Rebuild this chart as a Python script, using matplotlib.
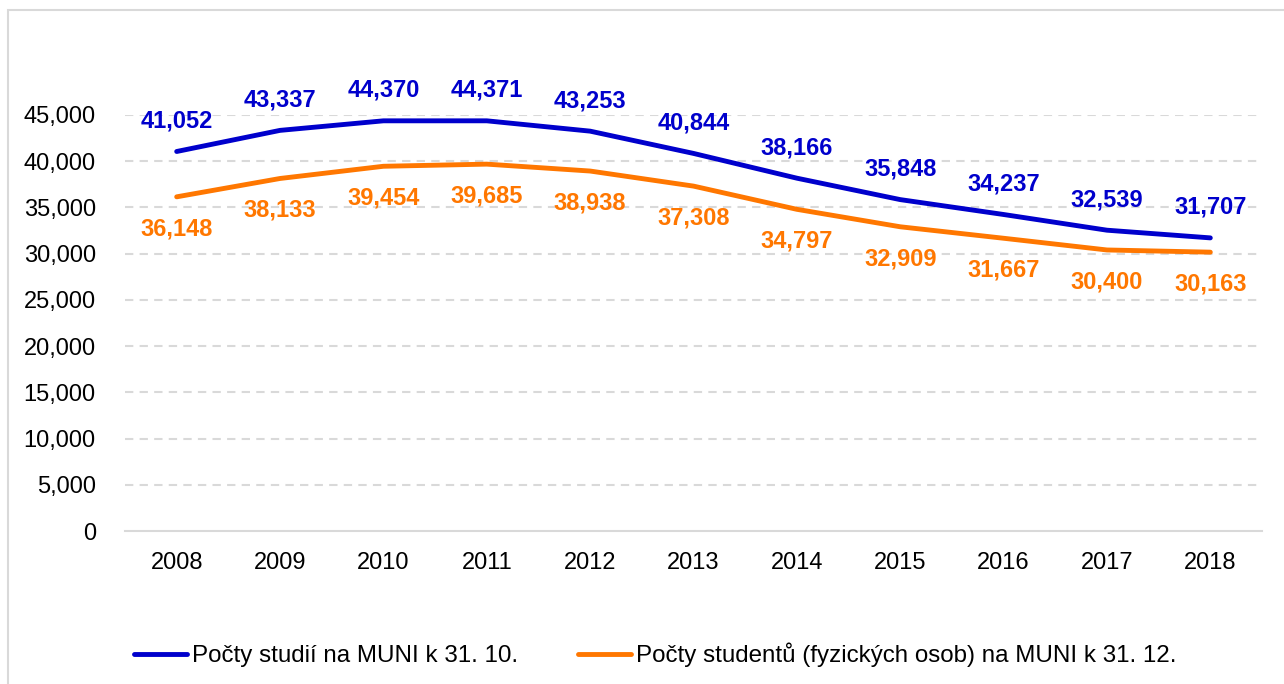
import matplotlib.pyplot as plt
from matplotlib.patches import Rectangle
from matplotlib.ticker import FuncFormatter

plt.rcParams['font.family'] = ['Liberation Sans', 'DejaVu Sans']

years = ['2008', '2009', '2010', '2011', '2012', '2013', '2014', '2015', '2016', '2017', '2018']
studies = [41052, 43337, 44370, 44371, 43253, 40844, 38166, 35848, 34237, 32539, 31707]
students = [36148, 38133, 39454, 39685, 38938, 37308, 34797, 32909, 31667, 30400, 30163]
yticks = list(range(0, 45001, 5000))

blue = '#0000CC'
orange = '#FF7700'
grid_c = '#D9D9D9'
fs = 17

fig = plt.figure(figsize=(12.84, 6.84), dpi=100)
ax = fig.add_axes([125 / 1284, 1 - 531 / 684, (1262 - 125) / 1284, (531 - 115) / 684])

x = list(range(len(years)))
l1, = ax.plot(x, studies, color=blue, lw=3.5, solid_joinstyle='round',
              solid_capstyle='round', label='Počty studií na MUNI k 31. 10.', zorder=3)
l2, = ax.plot(x, students, color=orange, lw=3.5, solid_joinstyle='round',
              solid_capstyle='round', label='Počty studentů (fyzických osob) na MUNI k 31. 12.', zorder=3)

for i in x:
    ax.annotate(f'{studies[i]:,}', (i, studies[i]), xytext=(0, 22), textcoords='offset points',
                ha='center', va='center', fontsize=fs, fontweight='bold', color=blue,
                annotation_clip=False)
    ax.annotate(f'{students[i]:,}', (i, students[i]), xytext=(0, -23), textcoords='offset points',
                ha='center', va='center', fontsize=fs, fontweight='bold', color=orange,
                annotation_clip=False)

ax.set_xlim(-0.5, len(years) - 0.5)
ax.set_ylim(0, 45000)
ax.set_xticks(x)
ax.set_xticklabels(years)
ax.set_yticks(yticks)
ax.yaxis.set_major_formatter(FuncFormatter(lambda v, p: f'{int(v):,}'))
ax.tick_params(axis='both', length=0, labelsize=fs, colors='black')
ax.tick_params(axis='x', pad=15)
ax.tick_params(axis='y', pad=21)

for y in yticks[1:]:
    ax.axhline(y, color=grid_c, lw=1.5, ls=(0, (4, 3)), zorder=1)
for s in ['top', 'right', 'left']:
    ax.spines[s].set_visible(False)
ax.spines['bottom'].set_color(grid_c)
ax.spines['bottom'].set_linewidth(1.5)

fig.legend(handles=[l1, l2], loc='center', bbox_to_anchor=(0.5 + 13 / 1284, 1 - 655 / 684), ncol=2,
           frameon=False, fontsize=17.4, handlelength=2.2, handletextpad=0.2, columnspacing=2.5)

fig.patches.append(Rectangle((8 / 1284, -0.1), 1.2, 1 - 10 / 684 + 0.1, transform=fig.transFigure,
                             fill=False, edgecolor=grid_c, lw=1.5))

fig.savefig('out.png', dpi=100)
